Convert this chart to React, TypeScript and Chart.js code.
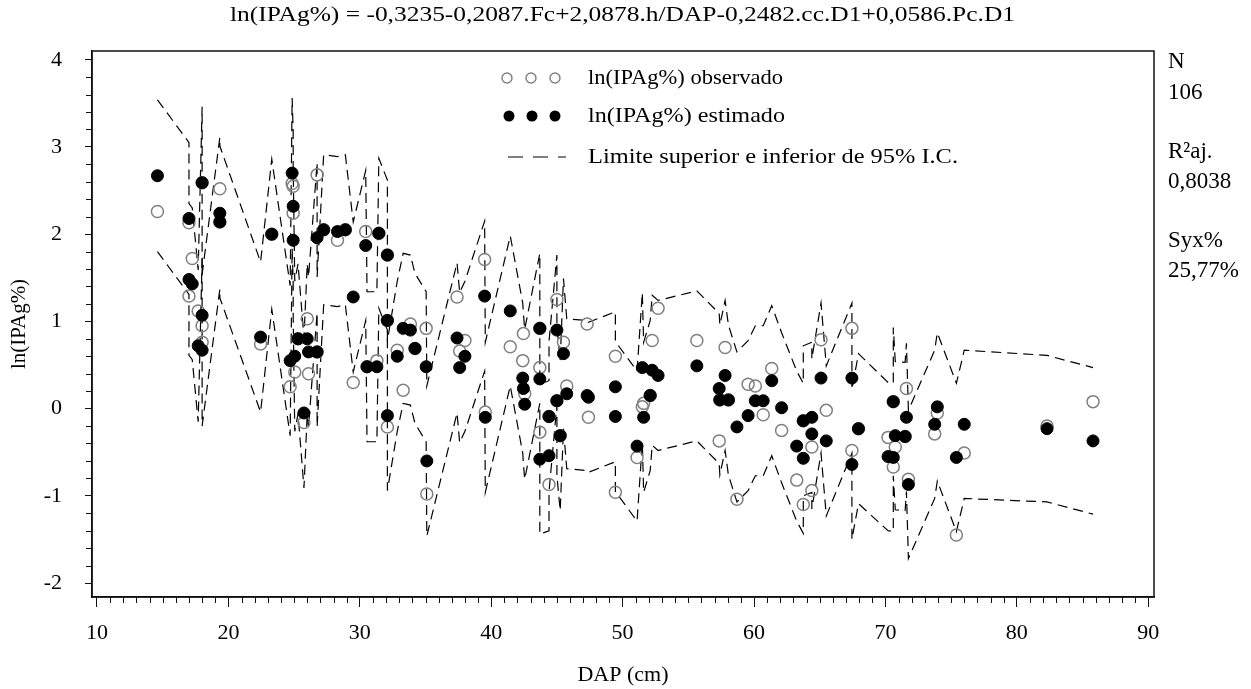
import React, { useEffect, useRef } from 'react';
import { Chart, registerables } from 'chart.js';

Chart.register(...registerables);

const dap = [
  14.6, 17.0, 17.0, 17.25, 17.7, 18.0, 18.0, 18.0, 19.35, 19.35,
  22.45, 23.3, 24.7, 24.85, 24.93, 24.93, 25.05, 25.3, 25.75, 26.0,
  26.1, 26.75, 26.75, 27.25, 28.3, 28.9, 29.5, 30.45, 30.55, 31.3,
  31.45, 32.1, 32.1, 32.1, 32.85, 33.3, 33.85, 34.2, 35.05, 35.1,
  37.4, 37.6, 38.0, 39.5, 39.55, 41.45, 42.4, 42.45, 42.55, 43.7,
  43.7, 43.7, 44.4, 44.4, 45.0, 45.0, 45.25, 45.5, 45.75, 47.3,
  47.4, 49.45, 49.45, 51.1, 51.5, 51.6, 52.1, 52.25, 52.7, 55.65,
  57.35, 57.4, 57.8, 58.05, 58.7, 59.55, 60.1, 60.7, 61.35, 62.1,
  63.25, 63.75, 63.75, 64.4, 64.4, 65.1, 65.5, 67.45, 67.45, 67.95,
  70.2, 70.6, 70.6, 70.75, 71.5, 71.6, 71.75, 73.75, 73.95, 75.4,
  76.0, 82.3, 85.8,
];

const observed = [
  2.26, 2.13, 1.29, 1.72, 1.12, 2.59, 0.95, 0.76, 2.52, 2.14,
  0.74, 2.0, 0.25, 2.58, 2.24, 2.55, 0.42, 0.8, -0.16, 1.03,
  0.4, 2.68, 0.65, 2.05, 1.93, 2.05, 0.3, 2.03, 0.48, 0.55,
  2.01, 1.76, 1.01, -0.21, 0.67, 0.21, 0.97, 0.69, 0.92, -0.98,
  1.28, 0.66, 0.78, 1.71, -0.04, 0.71, 0.55, 0.86, 0.17, 0.92,
  0.47, -0.27, -0.87, -0.09, 1.25, 0.09, -0.31, 0.76, 0.26, 0.97,
  -0.1, 0.6, -0.96, -0.56, 0.02, 0.06, 0.15, 0.78, 1.15, 0.78,
  -0.37, 0.1, 0.7, 0.1, -1.04, 0.28, 0.26, -0.07, 0.46, -0.25,
  -0.82, -1.1, -0.14, -0.44, -0.94, 0.79, -0.02, 0.92, -0.48, -0.23,
  -0.33, -0.67, 0.08, -0.44, -0.32, 0.23, -0.81, -0.29, -0.05, -1.45,
  -0.51, -0.2, 0.08,
];

const estimated = [
  2.67, 2.18, 1.48, 1.43, 0.72, 2.59, 1.07, 0.67, 2.24, 2.14,
  0.82, 2.0, 0.55, 2.7, 2.32, 1.93, 0.6, 0.8, -0.05, 0.8,
  0.65, 1.96, 0.65, 2.05, 2.03, 2.05, 1.28, 1.87, 0.48, 0.48,
  2.01, 1.76, 1.01, -0.08, 0.6, 0.92, 0.9, 0.69, 0.48, -0.6,
  0.81, 0.47, 0.6, 1.29, -0.1, 1.12, 0.35, 0.23, 0.05, 0.92,
  0.34, -0.58, -0.54, -0.09, 0.9, 0.09, -0.31, 0.63, 0.17, 0.15,
  0.13, 0.25, -0.09, -0.43, 0.47, -0.1, 0.15, 0.44, 0.38, 0.49,
  0.23, 0.1, 0.38, 0.1, -0.21, -0.08, 0.09, 0.09, 0.32, 0.01,
  -0.43, -0.57, -0.14, -0.1, -0.29, 0.35, -0.37, 0.35, -0.64, -0.23,
  -0.55, -0.56, 0.08, -0.31, -0.32, -0.1, -0.87, -0.18, 0.02, -0.56,
  -0.18, -0.23, -0.37,
];

const upperCI = [
  3.54, 3.05, 2.35, 2.3, 1.59, 3.46, 1.94, 1.54, 3.11, 3.01,
  1.68, 2.86, 1.41, 3.56, 3.18, 2.79, 1.46, 1.66, 0.81, 1.66,
  1.51, 2.82, 1.51, 2.91, 2.89, 2.91, 2.14, 2.73, 1.34, 1.34,
  2.87, 2.62, 1.87, 0.78, 1.46, 1.78, 1.76, 1.55, 1.34, 0.26,
  1.67, 1.33, 1.46, 2.15, 0.76, 1.98, 1.21, 1.09, 0.91, 1.78,
  1.2, 0.28, 0.32, 0.77, 1.76, 0.95, 0.55, 1.49, 1.03, 1.01,
  0.99, 1.11, 0.77, 0.43, 1.33, 0.76, 1.01, 1.3, 1.24, 1.35,
  1.09, 0.96, 1.24, 0.96, 0.65, 0.78, 0.95, 0.95, 1.18, 0.87,
  0.43, 0.29, 0.72, 0.76, 0.57, 1.21, 0.49, 1.21, 0.22, 0.63,
  0.3, 0.29, 0.93, 0.54, 0.53, 0.75, -0.02, 0.67, 0.87, 0.29,
  0.67, 0.61, 0.47,
];

const lowerCI = [
  1.8, 1.31, 0.61, 0.56, -0.15, 1.72, 0.2, -0.2, 1.37, 1.27,
  -0.04, 1.14, -0.31, 1.84, 1.46, 1.07, -0.26, -0.06, -0.91, -0.06,
  -0.21, 1.1, -0.21, 1.19, 1.17, 1.19, 0.42, 1.01, -0.38, -0.38,
  1.15, 0.9, 0.15, -0.94, -0.26, 0.06, 0.04, -0.17, -0.38, -1.46,
  -0.05, -0.39, -0.26, 0.43, -0.96, 0.26, -0.51, -0.63, -0.81, 0.06,
  -0.52, -1.44, -1.4, -0.95, 0.04, -0.77, -1.17, -0.23, -0.69, -0.71,
  -0.73, -0.61, -0.95, -1.29, -0.39, -0.96, -0.71, -0.42, -0.48, -0.37,
  -0.63, -0.76, -0.48, -0.76, -1.07, -0.94, -0.77, -0.77, -0.54, -0.85,
  -1.29, -1.43, -1.0, -0.96, -1.15, -0.51, -1.23, -0.51, -1.5, -1.09,
  -1.4, -1.41, -0.77, -1.16, -1.17, -0.95, -1.72, -1.03, -0.83, -1.41,
  -1.03, -1.07, -1.21,
];

const xTickValues = [10, 20, 30, 40, 50, 60, 70, 80, 90];
const yTickValues = [-2, -1, 0, 1, 2, 3, 4];
const xMinorStep = 1;
const yMinorStep = 0.2;

const titleText = 'ln(IPAg%) = -0,3235-0,2087.Fc+2,0878.h/DAP-0,2482.cc.D1+0,0586.Pc.D1';
const xAxisTitle = 'DAP (cm)';
const yAxisTitle = 'ln(IPAg%)';
const legendLabels = ['ln(IPAg%) observado', 'ln(IPAg%) estimado', 'Limite superior e inferior de 95% I.C.'];
const statsLines = ['N', '106', 'R²aj.', '0,8038', 'Syx%', '25,77%'];

const FONT = '"Liberation Serif", "Times New Roman", serif';

function drawFit(ctx: CanvasRenderingContext2D, text: string, x: number, y: number, width: number) {
  const w = ctx.measureText(text).width;
  const sx = width / w;
  ctx.save();
  ctx.translate(x, y);
  ctx.scale(sx, 1);
  ctx.textAlign = 'left';
  ctx.fillText(text, 0, 0);
  ctx.restore();
}

const decorPlugin = {
  id: 'decor',
  afterDraw(chart: any) {
    const ctx: CanvasRenderingContext2D = chart.ctx;
    const { left, right, top, bottom } = chart.chartArea;
    const xs = chart.scales.x;
    const ys = chart.scales.y;
    ctx.save();
    // frame
    ctx.strokeStyle = '#111';
    ctx.lineWidth = 1.5;
    ctx.strokeRect(left, top, right - left, bottom - top);

    // minor ticks
    ctx.lineWidth = 1;
    ctx.beginPath();
    for (let v = xTickValues[0]; v <= xTickValues[xTickValues.length - 1] + 1e-6; v += xMinorStep) {
      if (Math.abs(v % 10) < 1e-6) continue;
      const px = Math.round(xs.getPixelForValue(v)) + 0.5;
      ctx.moveTo(px, bottom);
      ctx.lineTo(px, bottom + 6);
    }
    for (let v = yTickValues[0]; v <= yTickValues[yTickValues.length - 1] + 1e-6; v += yMinorStep) {
      const r = Math.round(v * 10) / 10;
      if (Math.abs(r - Math.round(r)) < 1e-6) continue;
      const py = Math.round(ys.getPixelForValue(r)) + 0.5;
      ctx.moveTo(left - 6, py);
      ctx.lineTo(left, py);
    }
    ctx.stroke();

    ctx.fillStyle = '#000';
    ctx.textBaseline = 'middle';

    // title
    ctx.font = `21px ${FONT}`;
    drawFit(ctx, titleText, 230, 15, 785);

    // legend
    ctx.font = `22px ${FONT}`;
    const ly = [78, 116, 157];
    ctx.strokeStyle = '#7f7f7f';
    ctx.lineWidth = 1.4;
    [507, 531, 555].forEach((cx) => {
      ctx.beginPath();
      ctx.arc(cx, ly[0], 5, 0, Math.PI * 2);
      ctx.stroke();
    });
    ctx.fillStyle = '#000';
    [509, 532, 555].forEach((cx) => {
      ctx.beginPath();
      ctx.arc(cx, ly[1], 5.5, 0, Math.PI * 2);
      ctx.fill();
    });
    ctx.strokeStyle = '#000';
    ctx.lineWidth = 1.2;
    ctx.setLineDash([15, 10]);
    ctx.beginPath();
    ctx.moveTo(508, ly[2]);
    ctx.lineTo(566, ly[2]);
    ctx.stroke();
    ctx.setLineDash([]);
    drawFit(ctx, legendLabels[0], 588, ly[0], 195);
    drawFit(ctx, legendLabels[1], 588, ly[1], 197);
    drawFit(ctx, legendLabels[2], 588, ly[2], 370);

    // stats on the right
    ctx.font = `23px ${FONT}`;
    ctx.textAlign = 'left';
    const sy = [62, 93, 152, 182, 241, 271];
    statsLines.forEach((t, i) => ctx.fillText(t, 1168, sy[i]));
    ctx.restore();
  },
};

export default function App() {
  const ref = useRef<HTMLCanvasElement | null>(null);
  useEffect(() => {
    if (!ref.current) return;
    const pts = (ys: number[]) => dap.map((d, i) => ({ x: d, y: ys[i] }));
    const tickFont = { family: FONT, size: 22 };
    const chart = new Chart(ref.current, {
      type: 'scatter',
      data: {
        datasets: [
          {
            label: legendLabels[1],
            data: pts(estimated),
            showLine: false,
            pointStyle: 'circle',
            pointRadius: 6,
            pointBackgroundColor: '#000',
            pointBorderColor: '#000',
            pointBorderWidth: 1,
            order: 0,
          },
          {
            label: legendLabels[0],
            data: pts(observed),
            showLine: false,
            pointStyle: 'circle',
            pointRadius: 6,
            pointBackgroundColor: 'rgba(0,0,0,0)',
            pointBorderColor: '#808080',
            pointBorderWidth: 1.5,
            order: 1,
          },
          {
            label: 'upper',
            data: pts(upperCI),
            showLine: true,
            pointRadius: 0,
            borderColor: '#000',
            borderWidth: 1.2,
            borderDash: [10, 6],
            tension: 0,
            order: 2,
          },
          {
            label: 'lower',
            data: pts(lowerCI),
            showLine: true,
            pointRadius: 0,
            borderColor: '#000',
            borderWidth: 1.2,
            borderDash: [10, 6],
            tension: 0,
            order: 2,
          },
        ],
      } as any,
      options: {
        animation: false,
        responsive: true,
        maintainAspectRatio: false,
        layout: { padding: { left: 0, top: 51, right: 97, bottom: 0 } },
        plugins: {
          legend: { display: false },
          tooltip: { enabled: false },
          title: { display: false },
        },
        events: [],
        scales: {
          x: {
            type: 'linear',
            min: 9.62,
            max: 90.44,
            afterFit: (s: any) => {
              s.height = 92;
            },
            afterBuildTicks: (s: any) => {
              s.ticks = xTickValues.map((v) => ({ value: v }));
            },
            ticks: {
              autoSkip: false,
              maxRotation: 0,
              padding: 13,
              color: '#000',
              font: tickFont,
              callback: (v: any) => String(v),
            },
            grid: {
              drawOnChartArea: false,
              drawTicks: true,
              tickLength: 10,
              color: '#111',
              lineWidth: 1,
            },
            border: { display: true, color: '#111', width: 1.5 },
            title: {
              display: true,
              text: xAxisTitle,
              color: '#000',
              font: { family: FONT, size: 22 },
              padding: { top: 0, bottom: 1 },
            },
          },
          y: {
            type: 'linear',
            min: -2.16,
            max: 4.1,
            afterFit: (s: any) => {
              s.width = 92;
            },
            afterBuildTicks: (s: any) => {
              s.ticks = yTickValues.map((v) => ({ value: v }));
            },
            ticks: {
              autoSkip: false,
              padding: 23,
              color: '#000',
              font: tickFont,
              callback: (v: any) => String(v),
            },
            grid: {
              drawOnChartArea: false,
              drawTicks: true,
              tickLength: 7,
              color: '#111',
              lineWidth: 1,
            },
            border: { display: true, color: '#111', width: 1.5 },
            title: {
              display: true,
              text: yAxisTitle,
              color: '#000',
              font: { family: FONT, size: 21 },
              padding: { top: 7, bottom: 0 },
            },
          },
        },
      } as any,
      plugins: [decorPlugin],
    });
    return () => chart.destroy();
  }, []);

  return (
    <div style={{ position: 'fixed', left: 0, top: 0, width: 1251, height: 689, background: '#fff' }}>
      <canvas ref={ref} style={{ display: 'block' }} />
    </div>
  );
}
